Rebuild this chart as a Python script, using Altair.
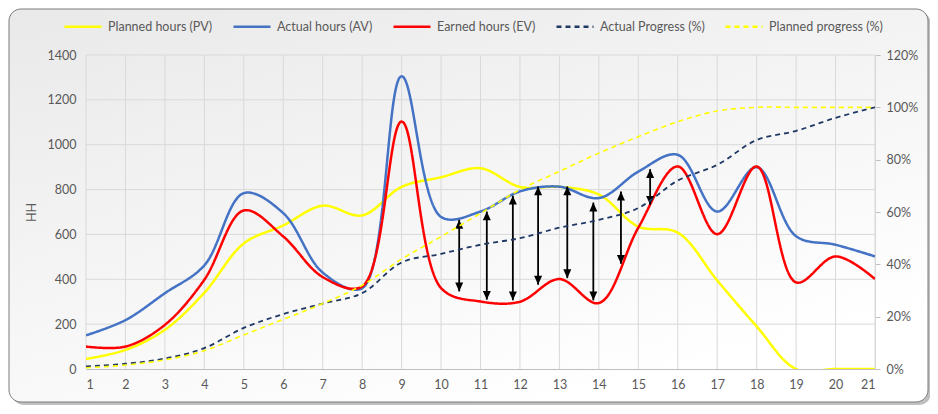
import altair as alt
import pandas as pd

# -----------------------------
# DATA
# -----------------------------
days = list(range(1, 22))

planned_hours = [45, 85, 175, 340, 560, 640, 728, 685, 812, 855, 895,
                 812, 812, 778, 635, 608, 395, 190, 0, 0, 0]
actual_hours = [150, 218, 338, 462, 784, 695, 430, 360, 1305, 678, 702,
                792, 813, 762, 880, 955, 702, 900, 592, 554, 502]
earned_hours = [100, 100, 197, 398, 707, 591, 410, 368, 1103, 361, 301,
                300, 401, 294, 630, 903, 601, 903, 386, 502, 401]

actual_progress = [0.01, 0.02, 0.04, 0.08, 0.157, 0.21, 0.25, 0.29, 0.407,
                   0.44, 0.475, 0.50, 0.54, 0.57, 0.615, 0.72, 0.78, 0.875,
                   0.91, 0.96, 1.00]
planned_progress = [0.005, 0.015, 0.035, 0.07, 0.13, 0.19, 0.25, 0.32, 0.42,
                    0.506, 0.595, 0.685, 0.755, 0.825, 0.888, 0.945, 0.986,
                    1.0, 1.0, 1.0, 1.0]

# gap arrows between EV and AV
arrow_x = [10.46, 11.16, 11.82, 12.46, 13.2, 13.86, 14.56, 15.30]
arrow_top = [665, 702, 773, 814, 814, 742, 791, 891]
arrow_bottom = [346, 309, 306, 376, 405, 306, 469, 732]

hh_ticks = list(range(0, 1401, 200))
pct_ticks = [0, 0.2, 0.4, 0.6, 0.8, 1.0, 1.2]

series_names = ["Planned hours (PV)", "Actual hours (AV)", "Earned hours (EV)",
                "Actual Progress (%)", "Planned progress (%)"]
series_colors = ["#FFFF00", "#4472C4", "#FF0000", "#1F3864", "#FFFF00"]
series_dash = [[1, 0], [1, 0], [1, 0], [5, 4], [5, 4]]

FONT = "Lato"
TEXT = "#595959"
GRID = "#d9d9d9"
CURVE = "catmull-rom"

# -----------------------------
# TABLES
# -----------------------------
rows = []
for name, vals in zip(series_names, [planned_hours, actual_hours, earned_hours,
                                     actual_progress, planned_progress]):
    for d, v in zip(days, vals):
        rows.append({"day": d, "value": v, "series": name})
df = pd.DataFrame(rows)

arrows = pd.DataFrame({"day": arrow_x, "top": arrow_top, "bottom": arrow_bottom})
grid_x = pd.DataFrame({"day": days})
grid_y = pd.DataFrame({"tick": hh_ticks[1:]})

# -----------------------------
# SHARED ENCODINGS
# -----------------------------
x_enc = alt.X(
    "day:Q",
    scale=alt.Scale(domain=[1, 21], nice=False, zero=False),
    axis=alt.Axis(values=days, grid=False, ticks=False, domainColor="#bfbfbf",
                  labelPadding=9, title=None, zindex=1),
)

left_scale = alt.Scale(domain=[0, 1400], nice=False)
left_axis = alt.Axis(values=hh_ticks, format="d", grid=False, ticks=False,
                     domain=False, labelPadding=10, titlePadding=9,
                     orient="left", zindex=1)

right_scale = alt.Scale(domain=[0, 1.2], nice=False)
right_axis = alt.Axis(values=pct_ticks, format=".0%", grid=False, ticks=True,
                      tickSize=5, tickColor="#bfbfbf", domainColor=GRID,
                      labelPadding=6, title=None, orient="right", zindex=1)

legend = alt.Legend(title=None)
color_enc = alt.Color("series:N",
                      scale=alt.Scale(domain=series_names, range=series_colors),
                      legend=legend)
dash_enc = alt.StrokeDash("series:N",
                          scale=alt.Scale(domain=series_names, range=series_dash),
                          legend=legend)

base = alt.Chart(df)


def hours_line(name, width):
    return base.transform_filter(alt.datum.series == name).mark_line(
        interpolate=CURVE, strokeWidth=width, clip=True
    ).encode(
        x=x_enc,
        y=alt.Y("value:Q", scale=left_scale, axis=left_axis, title="HH"),
        color=color_enc,
        strokeDash=dash_enc,
    )


def pct_line(name, width):
    return base.transform_filter(alt.datum.series == name).mark_line(
        interpolate=CURVE, strokeWidth=width, clip=True
    ).encode(
        x=x_enc,
        y=alt.Y("value:Q", scale=right_scale, axis=right_axis, title=None),
        color=color_enc,
        strokeDash=dash_enc,
    )


# -----------------------------
# FRAME + GRID
# -----------------------------
frame_fill = alt.LinearGradient(
    gradient="linear",
    stops=[alt.GradientStop(color="#e9e9e9", offset=0),
           alt.GradientStop(color="#ffffff", offset=1)],
    x1=0, x2=0.6, y1=0, y2=1,
)
one = pd.DataFrame({"k": [0]})
shadow = alt.Chart(one).mark_rect(cornerRadius=12, fill="#8c8c8c", opacity=0.55).encode(
    x=alt.value(-74), x2=alt.value(845), y=alt.value(-43), y2=alt.value(350)
)
frame = alt.Chart(one).mark_rect(cornerRadius=12, fill=frame_fill,
                                 stroke="#7a7a7a", strokeWidth=1).encode(
    x=alt.value(-77), x2=alt.value(842), y=alt.value(-46), y2=alt.value(347)
)

vgrid = alt.Chart(grid_x).mark_rule(color=GRID, strokeWidth=1).encode(x=x_enc)
hgrid = alt.Chart(grid_y).mark_rule(color=GRID, strokeWidth=1).encode(
    y=alt.Y("tick:Q", scale=left_scale, axis=left_axis, title="HH")
)

# -----------------------------
# ARROWS
# -----------------------------
arrow_base = alt.Chart(arrows)
shafts = arrow_base.mark_rule(color="black", strokeWidth=1.8).encode(
    x=x_enc,
    y=alt.Y("top:Q", scale=left_scale, axis=left_axis, title="HH"),
    y2="bottom:Q",
)
heads_up = arrow_base.mark_point(shape="M0,0L0.5,1.1L-0.5,1.1Z", size=256,
                                 filled=True, color="black", opacity=1).encode(
    x=x_enc,
    y=alt.Y("top:Q", scale=left_scale, axis=left_axis, title="HH"),
)
heads_down = arrow_base.mark_point(shape="M0,0L0.5,-1.1L-0.5,-1.1Z", size=256,
                                   filled=True, color="black", opacity=1).encode(
    x=x_enc,
    y=alt.Y("bottom:Q", scale=left_scale, axis=left_axis, title="HH"),
)

left = alt.layer(
    hgrid, vgrid,
    hours_line(series_names[0], 2.5),
    hours_line(series_names[1], 2.5),
    hours_line(series_names[2], 2.5),
    shafts, heads_up, heads_down,
)
right = alt.layer(
    pct_line(series_names[3], 1.8),
    pct_line(series_names[4], 1.6),
)

chart = alt.layer(shadow, frame, left, right).resolve_scale(
    y="independent"
).properties(
    width=789,
    height=314,
    autosize=alt.AutoSizeParams(type="none"),
    padding={"left": 78, "top": 47, "right": 55, "bottom": 37},
    background="white",
).configure_view(
    stroke=None
).configure_axis(
    labelFont=FONT, labelFontSize=12.5, labelColor=TEXT,
    titleFont=FONT, titleFontSize=12.5, titleColor=TEXT, titleFontWeight="normal",
).configure_legend(
    orient="none", legendX=-23, legendY=-48.5, direction="horizontal",
    symbolType="stroke", symbolSize=1369, symbolStrokeWidth=2.5,
    labelFont=FONT, labelFontSize=12.5, labelColor=TEXT, labelOffset=5,
    columnPadding=15,
)

chart.save("out.html", embed_options={"renderer": "svg", "actions": False})
